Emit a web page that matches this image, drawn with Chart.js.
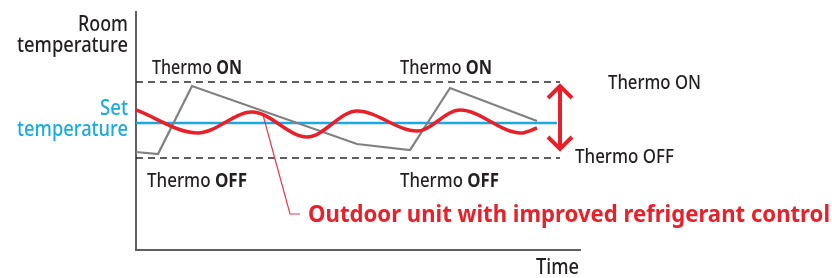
<!DOCTYPE html>
<html><head><meta charset="utf-8">
<script src="https://cdn.jsdelivr.net/npm/chart.js@4/dist/chart.umd.min.js"></script>
<style>html,body{margin:0;padding:0;background:#fff}#wrap{width:832px;height:278px}</style>
</head><body><div id="wrap"><canvas id="c" width="832" height="278"></canvas></div>
<script>
// ---- data (time / room temperature, arbitrary units) ----
const timeMin = 0, timeMax = 444;
const tempMin = 0, tempMax = 238;
const thermoOnLevel = 168;
const thermoOffLevel = 92;
const setTemperature = 127;
const levelEndTime = 424;
const setLineEndTime = 421;

const conventionalTime = [0, 22, 56, 221, 274, 314, 401];
const conventionalTemp = [98, 96, 164, 106, 100, 162, 129];

const improvedTime = [0, 62, 116, 171, 221, 281, 324, 385, 401];
const improvedTemp = [140, 117, 138, 113, 139, 119, 140, 117, 122];

const calloutTime = [127, 154, 164];
const calloutTemp = [135, 36, 36];

const axisLabelY = ['Room', 'temperature'];
const setLabel = ['Set', 'temperature'];
const axisLabelX = 'Time';
const calloutLabel = 'Outdoor unit with improved refrigerant control';

const toPts = (xs, ys) => xs.map((x, i) => ({x, y: ys[i]}));
const RED = '#e8202a', BLUE = '#1aa9e3', DARK = '#231f20', GRAY = '#808080';
const FONT = '"Noto Sans"';

function drawRich(ctx, parts, x, y, width, size, color, align, weight) {
  const fw = p => (p.b ? 'bold ' : (weight || '500 '));
  let total = 0;
  const ws = parts.map(p => { ctx.font = fw(p) + size + 'px ' + FONT; const w = ctx.measureText(p.t).width; total += w; return w; });
  const sx = width / total;
  ctx.save();
  ctx.translate(align === 'right' ? x - width : x, y);
  ctx.scale(sx, 1);
  ctx.fillStyle = color; ctx.textBaseline = 'alphabetic'; ctx.textAlign = 'left';
  let cx = 0;
  parts.forEach((p, i) => { ctx.font = fw(p) + size + 'px ' + FONT; ctx.fillText(p.t, cx, 0); cx += ws[i]; });
  ctx.restore();
}

const annot = {
  id: 'annot',
  afterDraw(chart) {
    const ctx = chart.ctx;
    const xs = chart.scales.x, ys = chart.scales.y;
    // double arrow between thermo levels
    const ax = xs.getPixelForValue(levelEndTime);
    const top = ys.getPixelForValue(thermoOnLevel) + 3;
    const bot = ys.getPixelForValue(thermoOffLevel) - 8;
    ctx.save();
    ctx.strokeStyle = RED; ctx.lineWidth = 4; ctx.lineCap = 'butt'; ctx.lineJoin = 'miter';
    ctx.beginPath(); ctx.moveTo(ax, top + 2); ctx.lineTo(ax, bot - 2); ctx.stroke();
    ctx.beginPath(); ctx.moveTo(ax - 12, top + 13); ctx.lineTo(ax, top + 1); ctx.lineTo(ax + 12, top + 13); ctx.stroke();
    ctx.beginPath(); ctx.moveTo(ax - 12, bot - 13); ctx.lineTo(ax, bot - 1); ctx.lineTo(ax + 12, bot - 13); ctx.stroke();
    ctx.restore();

    const T = [{t: 'Thermo ', b: false}];
    drawRich(ctx, [...T, {t: 'ON', b: true}], 152, 74, 90, 20, DARK);
    drawRich(ctx, [...T, {t: 'ON', b: true}], 400, 74, 92, 20, DARK);
    drawRich(ctx, [...T, {t: 'OFF', b: true}], 147, 187, 100, 20, DARK);
    drawRich(ctx, [...T, {t: 'OFF', b: true}], 400, 187, 99, 20, DARK);
    drawRich(ctx, [{t: 'Thermo ON', b: false}], 608, 89, 93, 20, DARK);
    drawRich(ctx, [{t: 'Thermo OFF', b: false}], 575, 163, 99, 20, DARK);
    drawRich(ctx, [{t: axisLabelY[0], b: false}], 128, 31, 50, 21, DARK, 'right');
    drawRich(ctx, [{t: axisLabelY[1], b: false}], 128, 52, 111, 21, DARK, 'right');
    drawRich(ctx, [{t: setLabel[0], b: false}], 128, 115, 28, 21, BLUE, 'right');
    drawRich(ctx, [{t: setLabel[1], b: false}], 128, 136, 111, 21, BLUE, 'right');
    drawRich(ctx, [{t: axisLabelX, b: false}], 536, 274, 43, 21, DARK);
    drawRich(ctx, [{t: calloutLabel, b: true}], 308, 222, 522, 24, RED);
  }
};

new Chart(document.getElementById('c'), {
  type: 'line',
  data: {
    datasets: [
      {data: toPts(improvedTime, improvedTemp), borderColor: RED, borderWidth: 3.5, cubicInterpolationMode: 'monotone', pointRadius: 0},
      {data: toPts(calloutTime, calloutTemp), borderColor: '#ea3a48', borderWidth: 1.2, pointRadius: 0},
      {data: toPts(conventionalTime, conventionalTemp), borderColor: GRAY, borderWidth: 2.2, pointRadius: 0, borderJoinStyle: 'miter'},
      {data: toPts([0, setLineEndTime], [setTemperature, setTemperature]), borderColor: BLUE, borderWidth: 2.5, pointRadius: 0},
      {data: toPts([0, levelEndTime], [thermoOnLevel, thermoOnLevel]), borderColor: '#2a2a2a', borderWidth: 1.3, borderDash: [7, 5], pointRadius: 0},
      {data: toPts([0, levelEndTime], [thermoOffLevel, thermoOffLevel]), borderColor: '#2a2a2a', borderWidth: 1.3, borderDash: [7, 5], pointRadius: 0}
    ]
  },
  options: {
    responsive: false, animation: false, devicePixelRatio: 1,
    layout: {padding: {left: 136, top: 12, right: 252, bottom: 28}},
    plugins: {legend: {display: false}, tooltip: {enabled: false}},
    scales: {
      x: {type: 'linear', min: timeMin, max: timeMax, ticks: {display: false}, grid: {display: false, drawTicks: false}, border: {display: true, color: '#5f5f5f', width: 2}},
      y: {type: 'linear', min: tempMin, max: tempMax, ticks: {display: false}, grid: {display: false, drawTicks: false}, border: {display: true, color: '#5f5f5f', width: 2}}
    }
  },
  plugins: [annot]
});
</script></body></html>
